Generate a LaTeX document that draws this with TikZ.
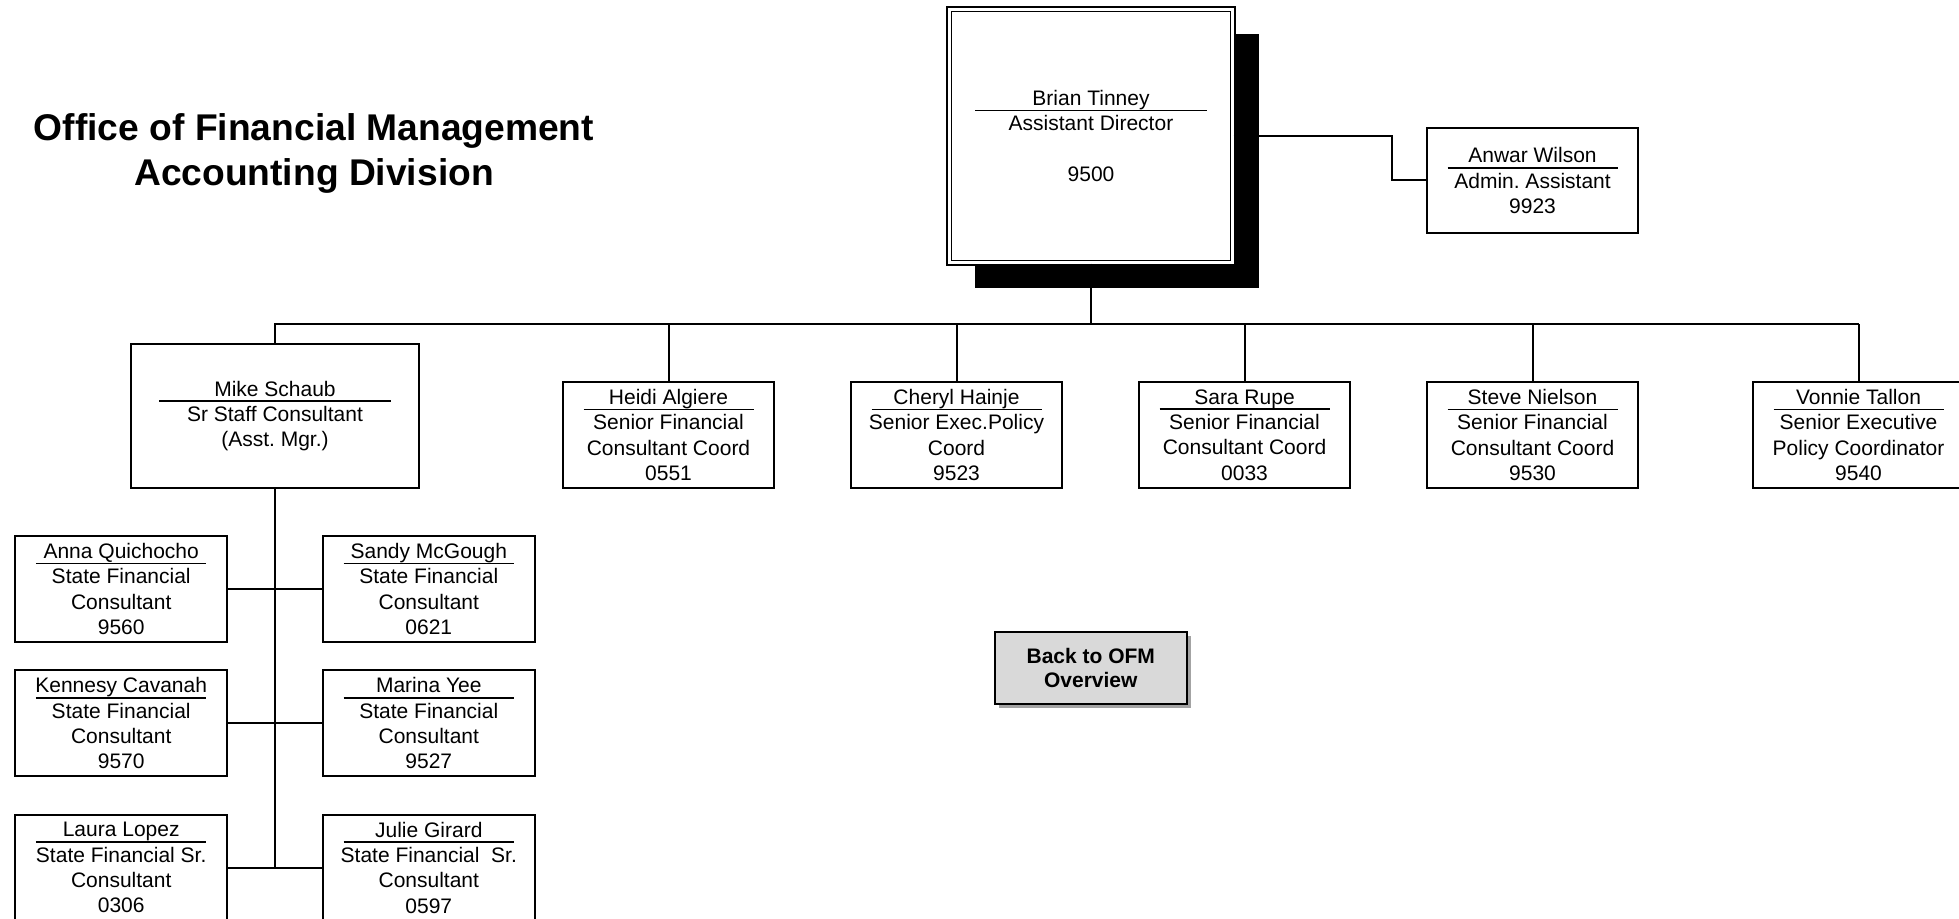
\documentclass[tikz,border=0pt]{standalone}
\usepackage{fontspec}
\setmainfont{Liberation Sans}
\usetikzlibrary{shadows}
\frenchspacing
\newcommand\cardfont{\fontsize{10.5}{12.7}\selectfont\frenchspacing}
\newcommand\uline[2]{\setbox0\hbox{#2}\makebox[\wd0]{\raisebox{-3pt}[0pt][0pt]{\rule{#1}{0.9pt}}}\kern-\wd0\box0}
\tikzset{
  card/.style={draw, line width=1pt, fill=white, inner sep=0pt, align=center, font=\cardfont},
  cardS/.style={card, minimum width=105.5pt, minimum height=53pt},
  cardM/.style={card, minimum width=144pt, minimum height=72pt},
  cardB/.style={card, minimum width=141.8pt, minimum height=126.75pt, line width=0.8pt,
     double, double distance=1.4pt,
     drop shadow={shadow xshift=13pt, shadow yshift=-12.5pt, fill=black, opacity=1}},
  backbtn/.style={draw, line width=1pt, fill=gray!30, inner sep=0pt, align=center,
     font=\bfseries\fontsize{10.5}{12.2}\selectfont, minimum width=96.25pt, minimum height=36.15pt,
     drop shadow={shadow xshift=2pt, shadow yshift=-2pt, fill=black!60, opacity=0.6}},
  conn/.style={line width=1pt},
  titletext/.style={align=center, font=\bfseries\fontsize{18.6}{22.5}\selectfont, inner sep=0pt}
}
\begin{document}
\begin{tikzpicture}[x=0.5pt,y=-0.5pt]
\useasboundingbox (0,0) rectangle (1959,919);
\clip (0,0) rectangle (1959,919);

\node[titletext] (title) at (314,153) {Office of Financial Management\\Accounting Division};

% top level
\node[cardB] (brian) at (1091,136) {\uline{116pt}{Brian Tinney}\\Assistant Director\\[12.7pt]9500};
\node[cardS, minimum height=52.5pt] (anwar) at (1532.5,180.5) {\uline{85pt}{Anwar Wilson}\\Admin. Assistant\\9923};

% second level
\node[cardM] (mike) at (275,416) {\uline{116pt}{Mike Schaub}\\Sr Staff Consultant\\(Asst. Mgr.)};
\node[cardS] (heidi) at (668.5,435) {\uline{85pt}{Heidi Algiere}\\Senior Financial\\Consultant Coord\\0551};
\node[cardS] (cheryl) at (956.5,435) {\uline{85pt}{Cheryl Hainje}\\Senior Exec.Policy\\Coord\\9523};
\node[cardS] (sara) at (1244.5,435) {\uline{85pt}{Sara Rupe}\\Senior Financial\\Consultant Coord\\0033};
\node[cardS] (steve) at (1532.5,435) {\uline{85pt}{Steve Nielson}\\Senior Financial\\Consultant Coord\\9530};
\node[cardS] (vonnie) at (1858.5,435) {\uline{85pt}{Vonnie Tallon}\\Senior Executive\\Policy Coordinator\\9540};

% third level
\node[cardS, minimum width=105.8pt] (anna) at (121.2,589) {\uline{85.3pt}{Anna Quichocho}\\State Financial\\Consultant\\9560};
\node[cardS, minimum width=105.8pt] (sandy) at (428.8,589) {\uline{85.3pt}{Sandy McGough}\\State Financial\\Consultant\\0621};
\node[cardS, minimum width=105.8pt] (kennesy) at (121.2,723.2) {\uline{85.3pt}{Kennesy Cavanah}\\State Financial\\Consultant\\9570};
\node[cardS, minimum width=105.8pt] (marina) at (428.8,723.2) {\uline{85.3pt}{Marina Yee}\\State Financial\\Consultant\\9527};
\node[cardS, minimum width=105.8pt] (laura) at (121.2,867.6) {\uline{85.3pt}{Laura Lopez}\\State Financial Sr.\\Consultant\\0306};
\node[cardS, minimum width=105.8pt] (julie) at (428.8,867.6) {\uline{85.3pt}{Julie Girard}\\State Financial~ Sr.\\Consultant\\0597};

\node[backbtn] (back) at (1090.75,667.9) {Back to OFM\\Overview};

% connectors
\coordinate (bus) at (1091,324.5);
\draw[conn] (brian.east) -- ++(158,0) |- (anwar.west);
\draw[conn] (brian.south) -- (brian.south |- bus);
\draw[conn] (mike.north) |- (vonnie.north |- bus);
\draw[conn] (vonnie.north) -- (vonnie.north |- bus);
\draw[conn] (heidi.north) -- (heidi.north |- bus);
\draw[conn] (cheryl.north) -- (cheryl.north |- bus);
\draw[conn] (sara.north) -- (sara.north |- bus);
\draw[conn] (steve.north) -- (steve.north |- bus);
\draw[conn] (mike.south) -- (mike.south |- laura.east);
\draw[conn] (anna.east) -- (sandy.west);
\draw[conn] (kennesy.east) -- (marina.west);
\draw[conn] (laura.east) -- (julie.west);
\end{tikzpicture}
\end{document}
